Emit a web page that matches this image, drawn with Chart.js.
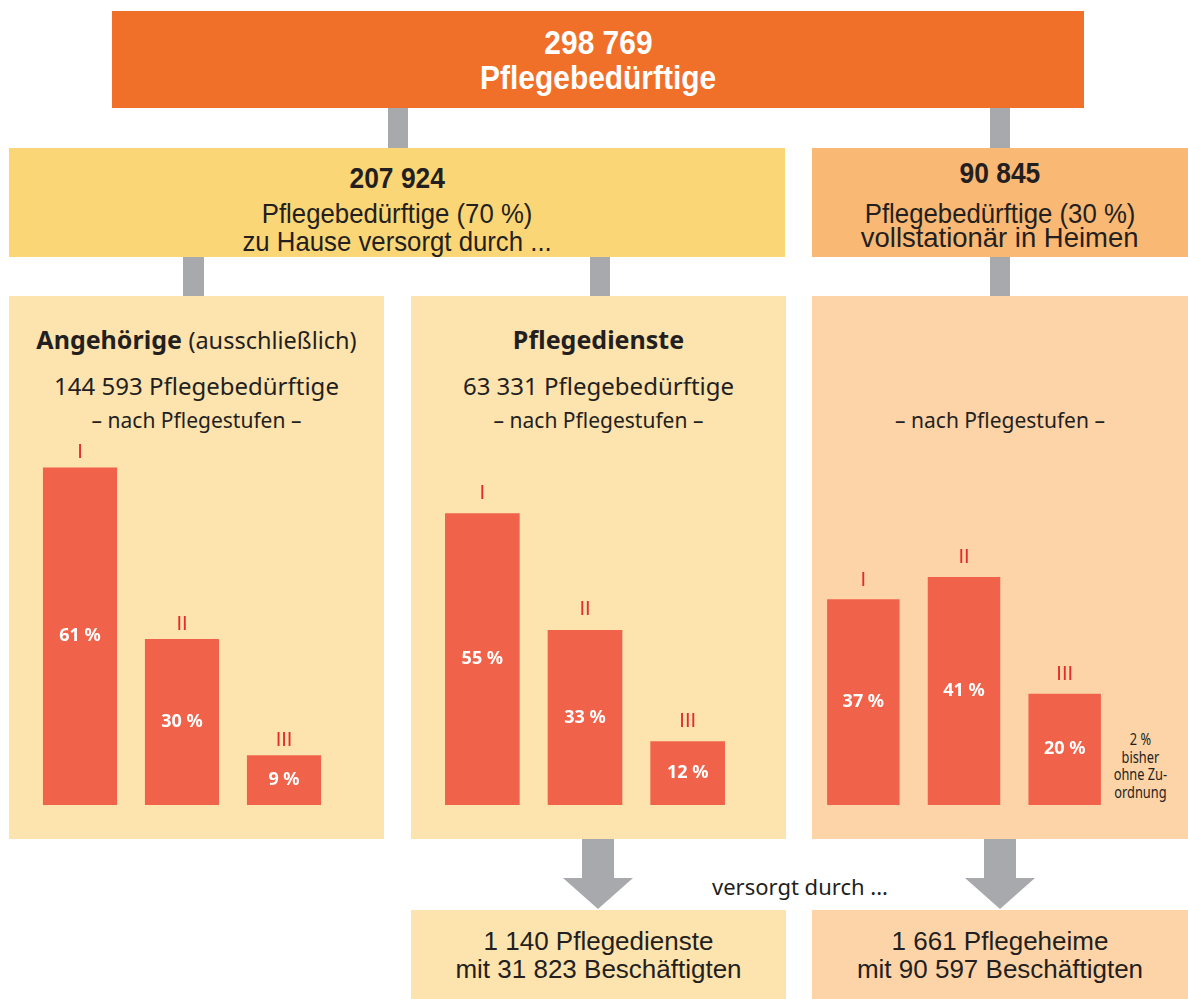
<!DOCTYPE html>
<html>
<head>
<meta charset="utf-8">
<script src="https://cdn.jsdelivr.net/npm/chart.js@4.4.0/dist/chart.umd.min.js"></script>
<style>
  body { margin:0; background:#fff; width:1188px; height:999px; overflow:hidden; position:relative; font-family:"Noto Sans", sans-serif; color:#231f20; }
  .box { position:absolute; }
  .gray { position:absolute; background:#a8a9ad; }
  .t { position:absolute; white-space:nowrap; text-align:center; }
  .cond { font-family:"Liberation Sans", Arial, sans-serif; }
  .cond span { display:inline-block; transform:scaleX(.92); }
  canvas { position:absolute; }
</style>
</head>
<body>

<!-- boxes -->
<div class="box" style="left:112px;top:11px;width:972px;height:97px;background:#f07029"></div>
<div class="gray" style="left:388px;top:108px;width:20px;height:40px"></div>
<div class="gray" style="left:990px;top:108px;width:20px;height:40px"></div>
<div class="box" style="left:9px;top:148px;width:776px;height:109px;background:#fbd676"></div>
<div class="box" style="left:812px;top:148px;width:376px;height:109px;background:#f9b874"></div>
<div class="gray" style="left:183px;top:257px;width:21px;height:39px"></div>
<div class="gray" style="left:590px;top:257px;width:20px;height:39px"></div>
<div class="gray" style="left:990px;top:257px;width:20px;height:39px"></div>
<div class="box" style="left:9px;top:296px;width:375px;height:543px;background:#fde3ae"></div>
<div class="box" style="left:411px;top:296px;width:375px;height:543px;background:#fde3ae"></div>
<div class="box" style="left:812px;top:296px;width:376px;height:543px;background:#fdd4a8"></div>

<!-- arrows -->
<div class="gray" style="left:582px;top:839px;width:32px;height:40px"></div>
<div class="gray" style="left:563px;top:878px;width:70px;height:31px;clip-path:polygon(0 0,100% 0,50% 100%)"></div>
<div class="gray" style="left:984px;top:839px;width:32px;height:40px"></div>
<div class="gray" style="left:965px;top:878px;width:70px;height:31px;clip-path:polygon(0 0,100% 0,50% 100%)"></div>

<div class="box" style="left:411px;top:910px;width:375px;height:89px;background:#fde3ae"></div>
<div class="box" style="left:812px;top:910px;width:376px;height:89px;background:#fdd4a8"></div>

<!-- texts -->
<div class="t cond" style="left:112px;width:972px;top:22px;line-height:40px;font-size:34px;font-weight:bold;color:#fff"><span style="transform:scaleX(.88)">298 769</span></div>
<div class="t cond" style="left:112px;width:972px;top:57px;line-height:40px;font-size:34px;font-weight:bold;color:#fff"><span style="transform:scaleX(.88)">Pflegebedürftige</span></div>

<div class="t cond" style="left:9px;width:776px;top:160px;line-height:36px;font-size:30px;font-weight:bold"><span style="transform:scaleX(.88)">207 924</span></div>
<div class="t cond" style="left:9px;width:776px;top:198px;line-height:32px;font-size:28px"><span>Pflegebedürftige (70 %)</span></div>
<div class="t cond" style="left:9px;width:776px;top:226px;line-height:32px;font-size:28px"><span>zu Hause versorgt durch ...</span></div>

<div class="t cond" style="left:812px;width:376px;top:155px;line-height:36px;font-size:30px;font-weight:bold"><span style="transform:scaleX(.88)">90 845</span></div>
<div class="t cond" style="left:812px;width:376px;top:198px;line-height:32px;font-size:28px"><span>Pflegebedürftige (30 %)</span></div>
<div class="t cond" style="left:812px;width:376px;top:222px;line-height:32px;font-size:28px"><span style="transform:scaleX(.98)">vollstationär in Heimen</span></div>

<div class="t" style="left:9px;width:375px;top:322px;line-height:34px;font-size:25px"><b>Angehörige</b> <span style="font-size:23.5px">(ausschließlich)</span></div>
<div class="t" style="left:9px;width:375px;top:370px;line-height:32px;font-size:24px">144 593 Pflegebedürftige</div>
<div class="t" style="left:9px;width:375px;top:406px;line-height:28px;font-size:21px">– nach Pflegestufen –</div>

<div class="t" style="left:411px;width:375px;top:322px;line-height:34px;font-size:25px;font-weight:bold">Pflegedienste</div>
<div class="t" style="left:411px;width:375px;top:370px;line-height:32px;font-size:24px">63 331 Pflegebedürftige</div>
<div class="t" style="left:411px;width:375px;top:406px;line-height:28px;font-size:21px">– nach Pflegestufen –</div>

<div class="t" style="left:812px;width:376px;top:406px;line-height:28px;font-size:21px">– nach Pflegestufen –</div>

<div class="t" style="left:1100px;width:80px;top:731px;line-height:17.5px;font-size:16px"><span style="display:inline-block;transform:scaleX(.8)">2 %<br>bisher<br>ohne Zu-<br>ordnung</span></div>

<div class="t" style="left:640px;width:320px;top:871px;line-height:30px;font-size:22px">versorgt durch ...</div>

<div class="t cond" style="left:411px;width:375px;top:926px;line-height:30px;font-size:26px"><span style="transform:none">1 140 Pflegedienste</span></div>
<div class="t cond" style="left:411px;width:375px;top:954px;line-height:30px;font-size:26px"><span style="transform:none">mit 31 823 Beschäftigten</span></div>
<div class="t cond" style="left:812px;width:376px;top:926px;line-height:30px;font-size:26px"><span style="transform:none">1 661 Pflegeheime</span></div>
<div class="t cond" style="left:812px;width:376px;top:954px;line-height:30px;font-size:26px"><span style="transform:none">mit 90 597 Beschäftigten</span></div>

<canvas id="c1" width="306" height="375" style="left:29px;top:430px"></canvas>
<canvas id="c2" width="308" height="375" style="left:431px;top:430px"></canvas>
<canvas id="c3" width="302" height="375" style="left:813px;top:430px"></canvas>

<script>
const stufen = ['I', 'II', 'III'];
const angehoerige = [61, 30, 9];
const pflegedienste = [55, 33, 12];
const heime = [37, 41, 20];

const barColor = '#f0634a';

// draws the roman numeral above each bar and the % inside it
const stufenLabels = {
  id: 'stufenLabels',
  afterDatasetsDraw(chart, args, opts) {
    const ctx = chart.ctx;
    const meta = chart.getDatasetMeta(0);
    const vals = chart.data.datasets[0].data;
    ctx.save();
    ctx.textAlign = 'center';
    ctx.textBaseline = 'middle';
    meta.data.forEach((bar, i) => {
      ctx.fillStyle = '#e42d2a';
      ctx.font = '20px "Liberation Sans", Arial, sans-serif';
      ctx.fillText(chart.data.labels[i], bar.x, bar.y - opts.gap);
      ctx.fillStyle = '#fff';
      ctx.font = 'bold 18px "Noto Sans", sans-serif';
      ctx.fillText(vals[i] + ' %', bar.x, (bar.y + bar.base) / 2);
    });
    ctx.restore();
  }
};

function makeChart(id, values, yMax, gap, barPct) {
  return new Chart(document.getElementById(id), {
    type: 'bar',
    data: {
      labels: stufen,
      datasets: [{
        data: values,
        backgroundColor: barColor,
        borderWidth: 0,
        categoryPercentage: 1,
        barPercentage: barPct
      }]
    },
    options: {
      responsive: false,
      animation: false,
      layout: { padding: 0 },
      scales: {
        x: { display: false },
        y: { display: false, min: 0, max: yMax }
      },
      plugins: {
        legend: { display: false },
        tooltip: { enabled: false },
        stufenLabels: { gap: gap }
      }
    },
    plugins: [stufenLabels]
  });
}

makeChart('c1', angehoerige, 67.8, 15, 0.727);
makeChart('c2', pflegedienste, 70.7, 20, 0.727);
makeChart('c3', heime, 67.4, 19, 0.72);
</script>
</body>
</html>
